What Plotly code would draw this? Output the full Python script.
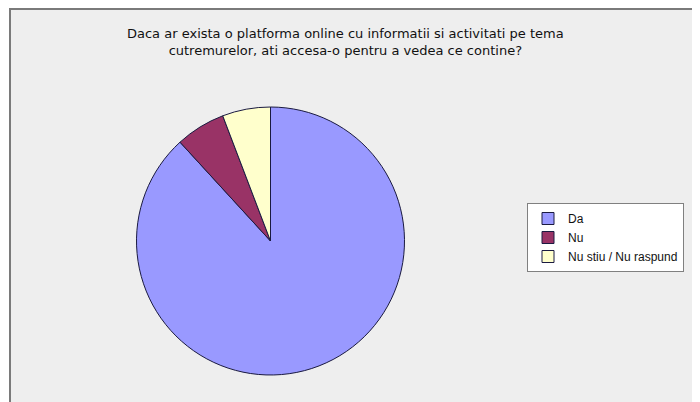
import plotly.graph_objects as go

labels = ["Da", "Nu", "Nu stiu / Nu raspund"]
values = [88.2, 6.0, 5.8]
colors = ["#9999FF", "#993366", "#FFFFCC"]

title_text = ("Daca ar exista o platforma online cu informatii si activitati pe tema<br>"
              "cutremurelor, ati accesa-o pentru a vedea ce contine?")

W, H = 700, 402
OFF = 8  # page body margin offset


def px(x):
    return (x - OFF) / W


def py(y):
    return (H - (y - OFF)) / H


fig = go.Figure(go.Pie(
    labels=labels,
    values=values,
    marker=dict(colors=colors, line=dict(color="#1a1a40", width=1)),
    sort=False,
    direction="clockwise",
    rotation=0,
    textinfo="none",
    hoverinfo="label+percent",
    domain=dict(x=[px(134), px(407)], y=[py(375), py(107)]),
))

fig.update_layout(
    width=W, height=H,
    margin=dict(l=0, r=0, t=0, b=0),
    paper_bgcolor="white",
    plot_bgcolor="#eeeeee",
    font=dict(family="Liberation Sans, Arial, sans-serif", color="#111111", size=12),
    showlegend=True,
    legend=dict(
        x=px(527), y=py(203), xanchor="left", yanchor="top",
        bgcolor="white", bordercolor="#808080", borderwidth=1,
        font=dict(size=12, color="#111111", family="Liberation Sans, Arial, sans-serif"),
        entrywidth=130, entrywidthmode="pixels",
        itemwidth=30,
    ),
    shapes=[
        dict(type="rect", xref="paper", yref="paper",
             x0=px(10), x1=1.05, y0=-0.05, y1=py(9),
             fillcolor="#eeeeee", line=dict(color="#7a7a7a", width=2),
             layer="below"),
    ],
    annotations=[
        dict(text=title_text, xref="paper", yref="paper",
             x=px(345), y=py(24), xanchor="center", yanchor="top",
             showarrow=False, align="center",
             font=dict(size=13, color="#111111",
                       family="DejaVu Sans, Arial, sans-serif")),
    ],
)

fig.write_html("out.html")
